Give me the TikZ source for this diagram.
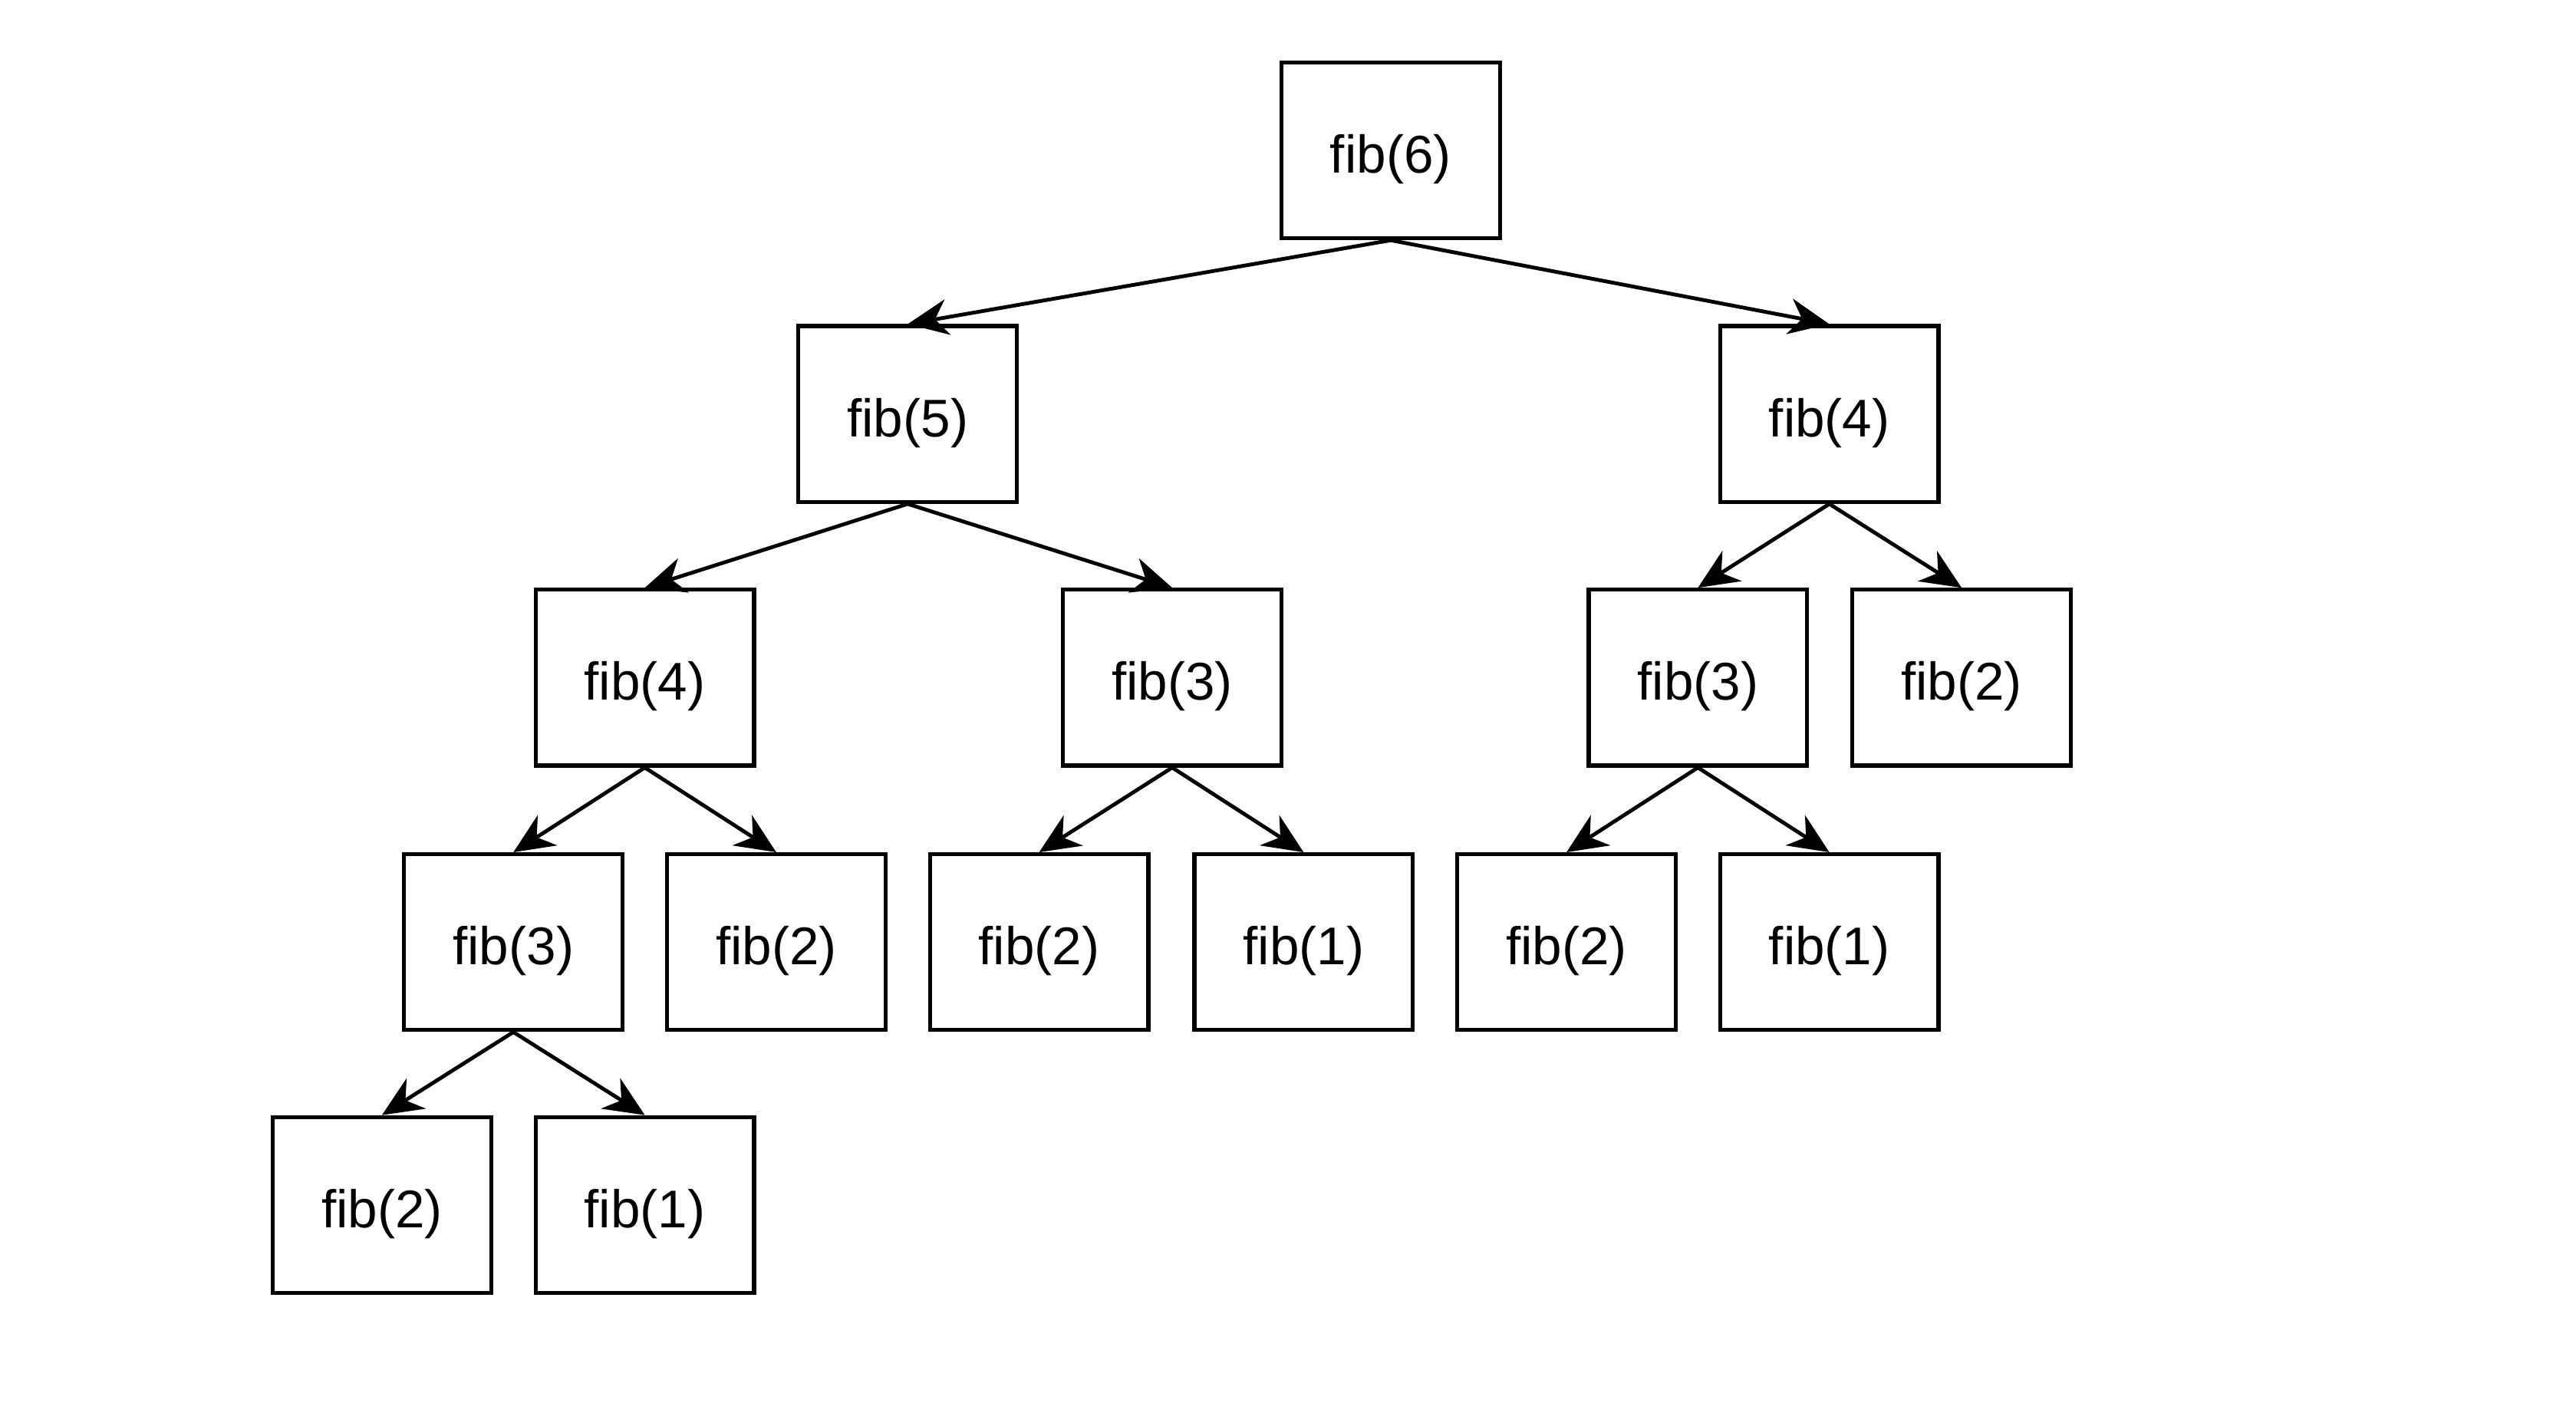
\documentclass[tikz,border=0pt]{standalone}
\usepackage{fontspec}
\setmainfont{Liberation Sans}
\usetikzlibrary{arrows.meta}
\tikzset{
  fibbox/.style={draw, line width=0.7pt, minimum width=1.33cm, minimum height=1.07cm,
    inner sep=0pt, text height=7.8pt, text depth=0pt, font=\fontsize{9.2}{10}\selectfont},
}
\begin{document}
\begin{tikzpicture}[line join=miter, >={Stealth[length=7pt,width=6.2pt,inset=2.2pt]}]
		\useasboundingbox (0,0) rectangle (15.68,-8.54);
		%% Khai bao diem
		\path
		(8.465,-0.915) coordinate (f6)
		(5.525,-2.52) coordinate (f5)
		(11.135,-2.52) coordinate (f4r)
		(3.925,-4.125) coordinate (f4)
		(7.135,-4.125) coordinate (f3a)
		(10.335,-4.125) coordinate (f3r)
		(11.94,-4.125) coordinate (f2r)
		(3.125,-5.735) coordinate (f3)
		(4.725,-5.735) coordinate (f2a)
		(6.325,-5.735) coordinate (f2b)
		(7.935,-5.735) coordinate (f1b)
		(9.535,-5.735) coordinate (f2c)
		(11.135,-5.735) coordinate (f1c)
		(2.325,-7.335) coordinate (f2)
		(3.925,-7.335) coordinate (f1)
		;
		%% ve hop
		\foreach \x/\n in {f6/6,f5/5,f4r/4,f4/4,f3a/3,f3r/3,f2r/2,f3/3,f2a/2,f2b/2,f1b/1,f2c/2,f1c/1,f2/2,f1/1}
		\node[fibbox] (n\x) at (\x) {fib(\n)};
		%% ve mui ten
		\foreach \a/\b in {f6/f5,f6/f4r,f5/f4,f5/f3a,f4r/f3r,f4r/f2r,f4/f3,f4/f2a,f3a/f2b,f3a/f1b,f3r/f2c,f3r/f1c,f3/f2,f3/f1}
		\draw[->, line width=0.65pt] (n\a.south)--(n\b.north);
\end{tikzpicture}
\end{document}
